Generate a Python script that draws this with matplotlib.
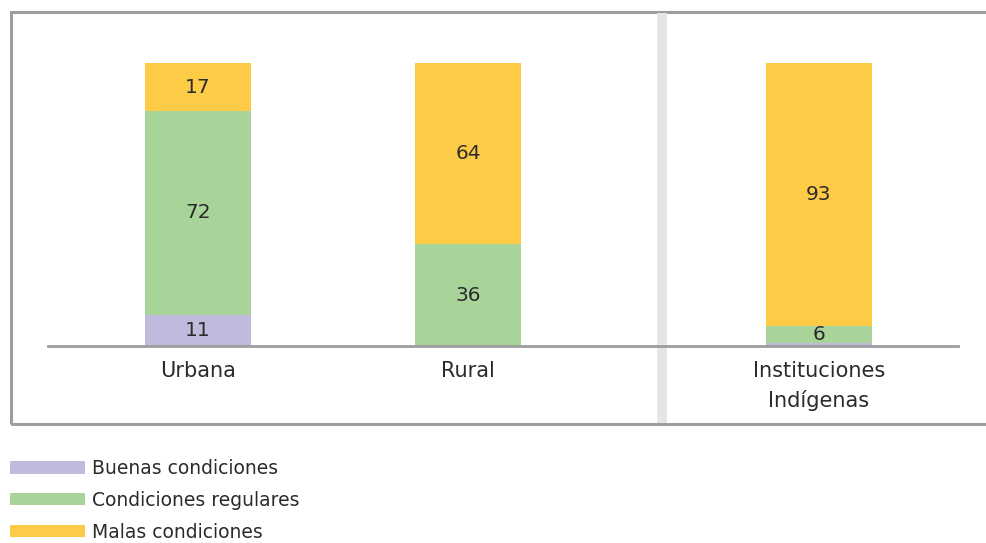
import matplotlib.pyplot as plt
from matplotlib.patches import Rectangle
from matplotlib.lines import Line2D
import numpy as np

plt.rcParams['font.family'] = ['DejaVu Sans']

categorias = ['Urbana', 'Rural', 'Instituciones\nIndígenas']
buenas = [11, 0, 1]
regulares = [72, 36, 6]
malas = [17, 64, 93]
series = ['Buenas condiciones', 'Condiciones regulares', 'Malas condiciones']

colores = ['#c1badc', '#a8d399', '#fecb46']
texto = '#2b2b2b'
gris = '#9d9d9d'

W, H = 987, 543
fig = plt.figure(figsize=(W / 100, H / 100), dpi=100)

# ejes: linea base de x=48 a 958 px, 0 en y=346 y 100 en y=63
ax = fig.add_axes([48 / W, 1 - 346 / H, 910 / W, 283 / H])
ax.set_facecolor('none')

pos = np.array([0, 1, 2.3])
ancho = 0.393
abajo = np.zeros(3)
for valores, nombre, color in zip([buenas, regulares, malas], series, colores):
    barras = ax.bar(pos, valores, ancho, bottom=abajo, color=color, label=nombre, zorder=2)
    etiquetas = [str(v) if v >= 5 else '' for v in valores]
    ax.bar_label(barras, labels=etiquetas, label_type='center', fontsize=14.5, color=texto)
    abajo += np.array(valores)

ax.set_ylim(0, 100)
ax.set_xlim(-150 / 270, 760 / 270)
ax.set_xticks(pos)
ax.set_xticklabels(categorias, fontsize=15, color=texto, linespacing=1.5)
ax.tick_params(axis='x', length=0, pad=11)
ax.set_yticks([])
for lado in ['top', 'right', 'left']:
    ax.spines[lado].set_visible(False)
ax.spines['bottom'].set_color(gris)
ax.spines['bottom'].set_linewidth(2)
ax.spines['bottom'].set_zorder(5)

# marco y separador
fig.patches.append(Rectangle((11 / W, 1 - 423.5 / H), 1.1, (423.5 - 11.5) / H,
                             transform=fig.transFigure, fill=False,
                             edgecolor=gris, linewidth=2.2, zorder=-2))
fig.lines.append(Line2D([661.5 / W, 661.5 / W], [1 - 423 / H, 1 - 12.5 / H],
                        transform=fig.transFigure, color='#e5e5e7',
                        linewidth=7, solid_capstyle='butt', zorder=-1))

handles, labels = ax.get_legend_handles_labels()
fig.legend(handles, labels, loc='upper left', bbox_to_anchor=(10 / W, 1 - 459 / H),
           frameon=False, fontsize=13.5, labelcolor=texto,
           handlelength=4.0, handleheight=0.65, handletextpad=0.37,
           labelspacing=0.68, borderpad=0, borderaxespad=0)

fig.savefig('out.png', dpi=100)
